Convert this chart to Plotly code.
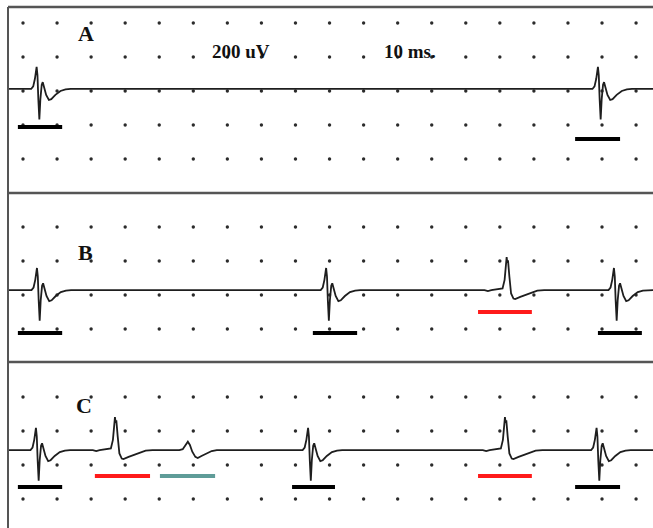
import plotly.graph_objects as go

# ---------------- data ----------------
# time in ms (10 ms per grid division), amplitude in uV (200 uV per grid division)
grid_times = list(range(0, 190, 10))          # dot columns (ms)
grid_levels = [200 * k for k in range(15)]     # dot rows (uV)
hidden_levels = [1800, 800]                    # rows covered by panel separators

panel_names = ["A", "B", "C"]
panel_baseline = {"A": 2412, "B": 1229, "C": 288}   # trace baseline per panel (uV)
panel_start, panel_end = -4.4, 185.0

# motor unit potential templates: (ms from peak, uV)
mup_black_t = [-3.0, -1.6, -1.0, -0.5, 0.0, 0.25, 0.5, 0.8, 1.1, 1.5, 1.8, 2.2, 2.8, 3.6, 4.3, 5.5, 7.0, 8.5, 10.0]
mup_black_v = [0, 0, 15, 60, 130, 80, -60, -180, -60, 25, 40, 15, -35, -65, -60, -35, -12, -3, 0]
mup_red_t = [-6.5, -5.5, -4.5, -1.2, -0.6, -0.2, 0.0, 0.2, 0.4, 0.8, 1.3, 2.0, 2.5, 4.0, 6.0, 7.5, 9.0, 11.0]
mup_red_v = [0, -6, 0, 10, 60, 180, 194, 160, 175, 80, -20, -50, -53, -40, -25, -10, -3, 0]
mup_teal_t = [-2.5, -1.5, -0.7, 0.0, 0.6, 1.3, 2.2, 2.9, 4.0, 5.5, 7.0, 8.5]
mup_teal_v = [0, 5, 30, 49, 30, -10, -40, -47, -35, -18, -6, 0]

# firing times (ms) and unit type per panel
events_A_t = [4.0, 168.8]
events_A_u = ["black", "black"]
events_B_t = [4.1, 89.0, 142.0, 173.5]
events_B_u = ["black", "black", "red", "black"]
events_C_t = [3.8, 27.0, 48.4, 83.7, 141.5, 168.4]
events_C_u = ["black", "red", "teal", "black", "red", "black"]

# identification bars: start ms, end ms, level below baseline (uV), unit
bars_A_x0 = [-1.5, 162.1]
bars_A_x1 = [11.5, 175.3]
bars_A_lv = [-224, -294]
bars_A_u = ["black", "black"]
bars_B_x0 = [-1.5, 85.1, 133.6, 168.8]
bars_B_x1 = [11.5, 98.1, 149.4, 181.7]
bars_B_lv = [-253, -253, -129, -253]
bars_B_u = ["black", "black", "red", "black"]
bars_C_x0 = [-1.5, 21.1, 40.2, 79.0, 133.6, 162.1]
bars_C_x1 = [11.5, 37.3, 56.4, 91.6, 149.4, 175.3]
bars_C_lv = [-218, -153, -153, -218, -153, -218]
bars_C_u = ["black", "red", "teal", "black", "red", "black"]

scale_labels = ["200 uV", "10 ms."]

# ---------------- styles ----------------
templates = {
    "black": (mup_black_t, mup_black_v),
    "red": (mup_red_t, mup_red_v),
    "teal": (mup_teal_t, mup_teal_v),
}
bar_colors = {"black": "#000000", "red": "#ff1a1a", "teal": "#5f9c98"}

W, H = 653, 528
PX_PER_MS = 3.406
PX_PER_UV = 34.0 / 200.0
X0_PX = 23.0       # pixel of t = 0
Y0_PX = 499.0      # pixel of level 0
xr = [-X0_PX / PX_PER_MS, (W - X0_PX) / PX_PER_MS]
yr = [(Y0_PX - H) / PX_PER_UV, Y0_PX / PX_PER_UV]

def px_to_x(p):
    return xr[0] + p / PX_PER_MS

def px_to_y(p):
    return (Y0_PX - p) / PX_PER_UV

fig = go.Figure()

# dot grid
gx, gy = [], []
for lv in grid_levels:
    if lv in hidden_levels:
        continue
    for t in grid_times:
        gx.append(t)
        gy.append(lv)
fig.add_trace(go.Scatter(x=gx, y=gy, mode="markers",
                         marker=dict(size=3.4, color="#2b2b2b", line=dict(width=0)),
                         hoverinfo="skip", showlegend=False))

panels = {
    "A": (events_A_t, events_A_u, bars_A_x0, bars_A_x1, bars_A_lv, bars_A_u),
    "B": (events_B_t, events_B_u, bars_B_x0, bars_B_x1, bars_B_lv, bars_B_u),
    "C": (events_C_t, events_C_u, bars_C_x0, bars_C_x1, bars_C_lv, bars_C_u),
}

for name in panel_names:
    ev_t, ev_u, b0, b1, blv, bu = panels[name]
    base = panel_baseline[name]
    xs, ys = [panel_start], [base]
    for t0, u in sorted(zip(ev_t, ev_u)):
        tt, vv = templates[u]
        for dt, v in zip(tt, vv):
            xs.append(t0 + dt)
            ys.append(base + v)
    xs.append(panel_end)
    ys.append(base)
    fig.add_trace(go.Scatter(x=xs, y=ys, mode="lines",
                             line=dict(color="#1e1e1e", width=1.8),
                             hoverinfo="skip", showlegend=False))
    for x0, x1, lv, u in zip(b0, b1, blv, bu):
        fig.add_trace(go.Scatter(x=[x0, x1], y=[base + lv, base + lv], mode="lines",
                                 line=dict(color=bar_colors[u], width=4),
                                 hoverinfo="skip", showlegend=False))

# frame: left border, top border, separators
frame_col = "#555555"
fig.add_shape(type="line", x0=px_to_x(8), x1=px_to_x(8), y0=px_to_y(7), y1=px_to_y(H),
              line=dict(color=frame_col, width=2))
for ypx in [7, 193, 362]:
    fig.add_shape(type="line", x0=px_to_x(8), x1=px_to_x(W), y0=px_to_y(ypx), y1=px_to_y(ypx),
                  line=dict(color=frame_col, width=2.5))

# labels
serif = "Liberation Serif, Times New Roman, serif"
label_pos = {"A": (86, 33), "B": (85, 252), "C": (84, 405)}
for name in panel_names:
    px, py = label_pos[name]
    fig.add_annotation(x=px_to_x(px), y=px_to_y(py), text="<b>%s</b>" % name, showarrow=False,
                       font=dict(family=serif, size=22, color="#111"))
for txt, (px, py) in zip(scale_labels, [(241, 51), (410, 51)]):
    fig.add_annotation(x=px_to_x(px), y=px_to_y(py), text="<b>%s</b>" % txt, showarrow=False,
                       font=dict(family=serif, size=19, color="#111"))

fig.update_xaxes(range=xr, visible=False, fixedrange=True)
fig.update_yaxes(range=yr, visible=False, fixedrange=True)
fig.update_layout(width=W, height=H, margin=dict(l=0, r=0, t=0, b=0),
                  paper_bgcolor="white", plot_bgcolor="white", showlegend=False)

fig.write_html("out.html")
